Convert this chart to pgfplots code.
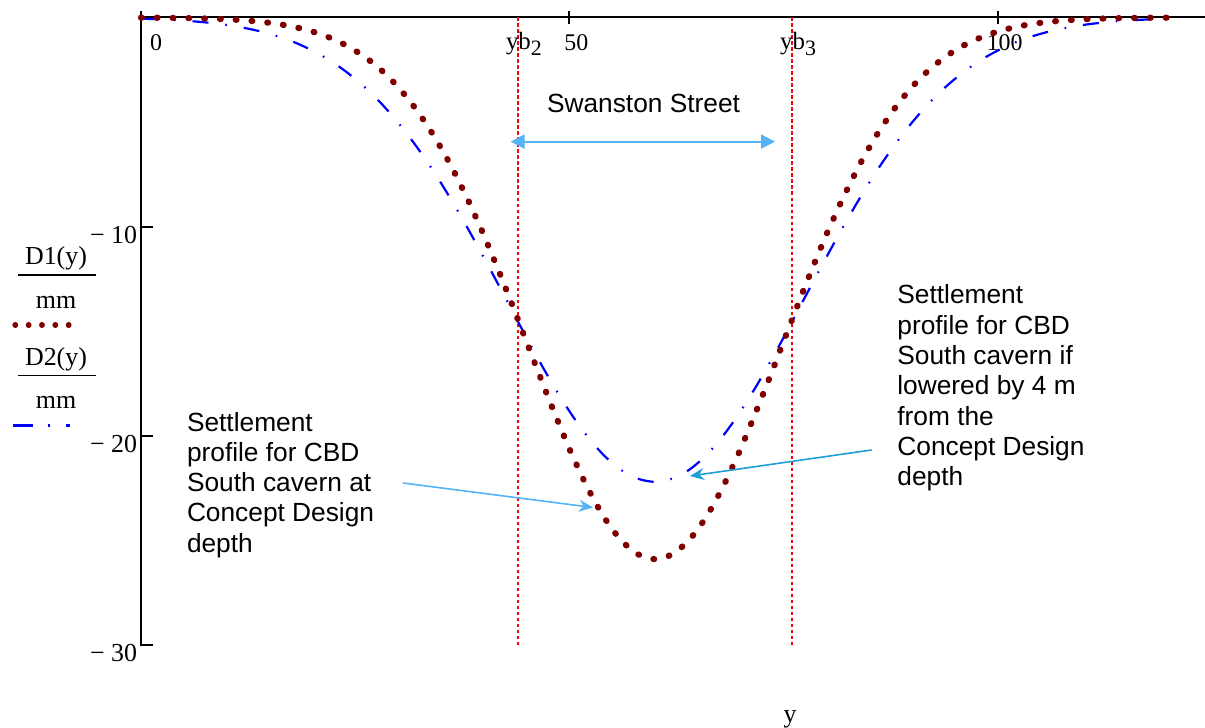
\documentclass[border=0pt]{standalone}
\usepackage{fontspec}
\setmainfont{Liberation Serif}
\newfontfamily\arial{Liberation Sans}
\usepackage{pgfplots}
\usepackage{pgfplotstable}
\pgfplotsset{compat=1.18}
\usetikzlibrary{arrows.meta}
\definecolor{dred}{RGB}{128,0,0}
\definecolor{lblue}{RGB}{85,180,245}
\definecolor{tblue}{RGB}{30,160,215}

\pgfplotstableread{
x d1 d2
0 -0.007 -0.058
2 -0.012 -0.085
4 -0.020 -0.125
6 -0.033 -0.179
8 -0.054 -0.254
10 -0.086 -0.356
12 -0.135 -0.492
14 -0.207 -0.672
16 -0.312 -0.905
18 -0.462 -1.20
20 -0.672 -1.58
22 -0.959 -2.04
24 -1.344 -2.61
26 -1.85 -3.29
28 -2.50 -4.09
30 -3.32 -5.02
32 -4.33 -6.08
34 -5.54 -7.26
36 -6.95 -8.57
38 -8.58 -9.98
40 -10.39 -11.46
42 -12.36 -12.99
44 -14.44 -14.54
46 -16.56 -16.06
48 -18.64 -17.50
50 -20.61 -18.82
52 -22.38 -19.97
54 -23.86 -20.92
56 -24.97 -21.62
58 -25.66 -22.05
60 -25.90 -22.20
62 -25.66 -22.05
64 -24.97 -21.62
66 -23.86 -20.92
68 -22.38 -19.97
70 -20.61 -18.82
72 -18.64 -17.50
74 -16.56 -16.06
76 -14.44 -14.54
78 -12.36 -12.99
80 -10.39 -11.46
82 -8.58 -9.98
84 -6.95 -8.57
86 -5.54 -7.26
88 -4.33 -6.08
90 -3.32 -5.02
92 -2.50 -4.09
94 -1.85 -3.29
96 -1.344 -2.61
98 -0.959 -2.04
100 -0.672 -1.58
102 -0.462 -1.20
104 -0.312 -0.905
106 -0.207 -0.672
108 -0.135 -0.492
110 -0.086 -0.356
112 -0.054 -0.254
114 -0.033 -0.179
116 -0.020 -0.125
118 -0.012 -0.085
120 -0.007 -0.058
}\datatable

\newcommand{\ybsub}[1]{yb\raisebox{-3bp}{\fontsize{11}{12}\selectfont #1}}

\begin{document}
\begin{tikzpicture}
\begin{axis}[
  at={(70.5bp,41.5bp)}, anchor=south west,
  width=532bp, height=313.75bp, scale only axis,
  xmin=0, xmax=124.2, ymin=-30, ymax=0,
  axis x line=middle, axis y line=left,
  axis line style={-, line width=1bp, black},
  hide obscured x ticks=false,
  xtick={0,50,100},
  xticklabels={{\makebox[0pt][l]{\kern1bp 0}},50,100},
  ytick={-30,-20,-10},
  yticklabels={− 30,− 20,− 10},
  tick style={black, line width=1bp},
  major tick length=6.5bp, tick align=center,
  ytick style={xshift=2.5bp},
  xticklabel style={font=\fontsize{12}{14}\selectfont, anchor=base, inner sep=0pt, xshift=3.5bp, yshift=-13.25bp},
  yticklabel style={font=\fontsize{13}{15}\selectfont, anchor=base east, inner sep=0pt, xshift=1.5bp, yshift=-8.3bp},
  clip=false,
]
\addplot[red, line width=0.6bp, dash pattern=on 1.8bp off 1.2bp] coordinates {(44,0) (44,-30)};
\addplot[red, line width=0.6bp, dash pattern=on 1.8bp off 1.2bp] coordinates {(76,0) (76,-30)};
\addplot[blue, line width=1.1bp, smooth, dash pattern=on 8bp off 8.5bp on 0.8bp off 8.5bp] table[x=x,y=d2]{\datatable};
\addplot[dred, line width=3.1bp, smooth, line cap=round, dash pattern=on 0.4bp off 7.5bp] table[x=x,y=d1]{\datatable};
\node[anchor=base, inner sep=0pt, font=\fontsize{12.5}{14}\selectfont, xshift=3bp, yshift=-16bp] at (axis cs:44,0) {\ybsub{2}};
\node[anchor=base, inner sep=0pt, font=\fontsize{12.5}{14}\selectfont, xshift=3bp, yshift=-16bp] at (axis cs:76,0) {\ybsub{3}};
\end{axis}
% y-axis label block
\begin{scope}[font=\fontsize{13}{15}\selectfont]
\node[anchor=base, inner sep=0pt] at (28bp,231.5bp) {D1(y)};
\draw[line width=0.8bp] (9bp,226.5bp) -- (48bp,226.5bp);
\node[anchor=base, inner sep=0pt] at (28bp,209.8bp) {mm};
\draw[dred, line width=2.6bp, line cap=round, dash pattern=on 0.3bp off 6.37bp] (7.5bp,201.5bp) -- (35bp,201.5bp);
\node[anchor=base, inner sep=0pt] at (28bp,181.2bp) {D2(y)};
\draw[line width=0.8bp] (9bp,176.2bp) -- (48bp,176.2bp);
\node[anchor=base, inner sep=0pt] at (28bp,159.5bp) {mm};
\draw[blue, line width=1.1bp, dash pattern=on 10bp off 7.5bp on 0.8bp off 8bp] (6.7bp,151.2bp) -- (35bp,151.2bp);
\node[anchor=base, inner sep=0pt] at (395bp,3bp) {y};
\end{scope}
% annotations
\begin{scope}[font=\arial\fontsize{13.2}{15.2}\selectfont]
\node[anchor=base, inner sep=0pt] at (321.75bp,307.5bp) {Swanston Street};
\node[anchor=north west, inner sep=0pt, align=left] at (93.3bp,158.2bp)
  {Settlement\\profile for CBD\\South cavern at\\Concept Design\\depth};
\node[anchor=north west, inner sep=0pt, align=left] at (448.5bp,221.8bp)
  {Settlement\\profile for CBD\\South cavern if\\lowered by 4 m\\from the\\Concept Design\\depth};
\end{scope}
\draw[lblue, line width=1bp, {Triangle[length=7bp,width=7bp]}-{Triangle[length=7bp,width=7bp]}] (255.3bp,293.2bp) -- (387.5bp,293.2bp);
\draw[lblue, line width=0.8bp, -{Stealth[length=7bp,width=6bp]}] (201.5bp,122.5bp) -- (296.5bp,110.25bp);
\draw[tblue, line width=0.8bp, -{Stealth[length=7bp,width=6bp]}] (435.8bp,139bp) -- (345bp,126bp);
\pgfresetboundingbox
\useasboundingbox (0,0) rectangle (602.5bp,364bp);
\end{tikzpicture}
\end{document}
